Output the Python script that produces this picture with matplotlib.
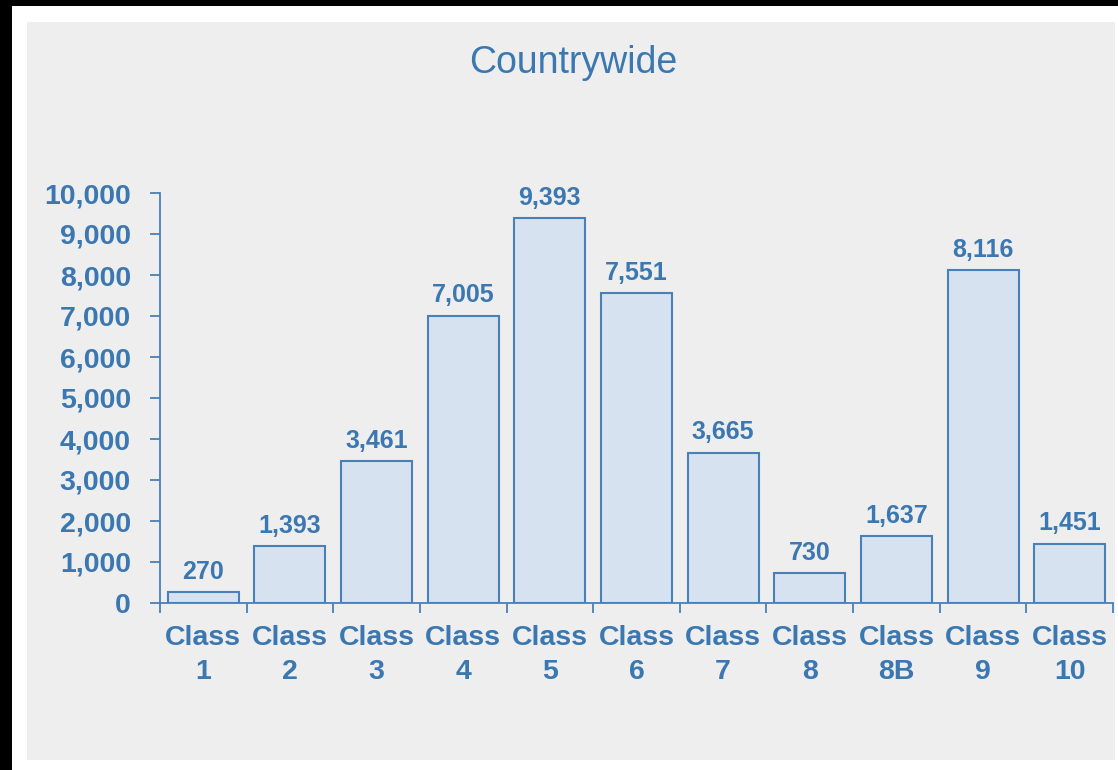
import numpy as np
from matplotlib import pyplot as plt
from matplotlib.patches import Rectangle
from matplotlib.ticker import FuncFormatter

categories = ['Class\n1', 'Class\n2', 'Class\n3', 'Class\n4', 'Class\n5', 'Class\n6',
              'Class\n7', 'Class\n8', 'Class\n8B', 'Class\n9', 'Class\n10']
counts = [270, 1393, 3461, 7005, 9393, 7551, 3665, 730, 1637, 8116, 1451]
yticks = [0, 1000, 2000, 3000, 4000, 5000, 6000, 7000, 8000, 9000, 10000]
title = 'Countrywide'

BLUE = '#3b77b1'
FILL = '#d6e2ef'
EDGE = '#4a80b8'
PANEL = '#eeeeee'

plt.rcParams['font.family'] = ['Liberation Sans', 'DejaVu Sans']

W, H = 1118, 770
fig = plt.figure(figsize=(W / 100, H / 100), dpi=100, facecolor='white')

# frame: black border, grey panel
fig.patches.append(Rectangle((0, 1 - 6 / H), 1, 6 / H, transform=fig.transFigure,
                             facecolor='black', edgecolor='none', zorder=-10))
fig.patches.append(Rectangle((0, 0), 12 / W, 1, transform=fig.transFigure,
                             facecolor='black', edgecolor='none', zorder=-10))
fig.patches.append(Rectangle((27 / W, 1 - 760 / H), (1115 - 27) / W, (760 - 22) / H,
                             transform=fig.transFigure, facecolor=PANEL,
                             edgecolor='none', zorder=-9))

ax = fig.add_axes([160 / W, 167 / H, (1113 - 160) / W, (603 - 193) / H])
ax.set_facecolor('none')

x = np.arange(len(categories))
bars = ax.bar(x, counts, width=0.82, color=FILL, edgecolor=EDGE, linewidth=1.5)

for xi, v in zip(x, counts):
    ax.annotate('{:,}'.format(v), (xi, v), xytext=(0, 6), textcoords='offset points',
                ha='center', va='bottom', fontsize=18, fontweight='bold', color=BLUE)

ax.set_xlim(-0.5, len(categories) - 0.5)
ax.set_ylim(0, 10000)
ax.set_yticks(yticks)
ax.yaxis.set_major_formatter(FuncFormatter(lambda v, p: '{:,}'.format(int(v))))
ax.set_xticks(x)
ax.set_xticklabels(categories, linespacing=1.38)
ax.set_xticks(np.arange(len(categories) + 1) - 0.5, minor=True)

ax.tick_params(axis='x', which='major', length=0, pad=16, labelsize=20.5,
               labelcolor=BLUE)
ax.tick_params(axis='x', which='minor', length=7, width=1.3, color=EDGE, direction='out')
ax.tick_params(axis='y', length=7, width=1.3, color=EDGE, direction='out', pad=14,
               labelsize=20.5, labelcolor=BLUE)
for lab in ax.get_xticklabels() + ax.get_yticklabels():
    lab.set_fontweight('bold')

for s in ['top', 'right']:
    ax.spines[s].set_visible(False)
for s in ['left', 'bottom']:
    ax.spines[s].set_color(EDGE)
    ax.spines[s].set_linewidth(1.3)

fig.text(573 / W, 1 - 63 / H, title, ha='center', va='center', fontsize=27, color=BLUE)

fig.savefig('out.png', dpi=100, facecolor=fig.get_facecolor())
